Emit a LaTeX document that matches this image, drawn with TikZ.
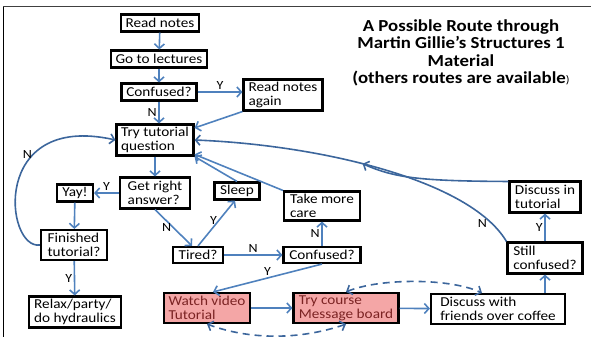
\documentclass[tikz,border=0pt]{standalone}
\usepackage{fontspec}
\setmainfont{Carlito}[FakeStretch=1.12]
\usepackage{tikz}
\usetikzlibrary{arrows.meta}
\definecolor{arrblue}{HTML}{4F81BD}
\definecolor{curveblue}{HTML}{3C669C}
\definecolor{pinkbox}{HTML}{F4A6A6}
\definecolor{pinktext}{HTML}{7B2323}

\begin{document}
\begin{tikzpicture}[x=1pt,y=-1pt,
	every node/.style={font=\fontsize{13.6}{14}\selectfont},
	box/.style={draw=black, line width=2.1pt, fill=white, align=left, inner xsep=4pt, inner ysep=2.5pt},
	hot/.style={box, fill=pinkbox, text=pinktext},
	link/.style={draw=arrblue, line width=1.6pt, -{Straight Barb[length=4.5pt,width=10pt]}},
	back/.style={link, draw=curveblue},
	chat/.style={draw=curveblue, line width=1.6pt, dash pattern=on 7pt off 5pt, {Straight Barb[length=4.5pt,width=10pt]}-{Straight Barb[length=4.5pt,width=10pt]}},
	lab/.style={font=\fontsize{12.5}{13}\selectfont, inner sep=1.5pt}]

    \useasboundingbox (0,0) rectangle (591,337);
    \draw[black!75, line width=1pt] (3,7) -- (591,7);
    \draw[black, line width=1pt] (3,7) -- (3,337);

    \node (title) at (461,53) [align=center, font=\fontsize{16.8}{17.5}\selectfont\bfseries]
        {A Possible Route through\\Martin Gillie’s Structures 1\\Material\\(others routes are available{\mdseries\fontsize{11}{12}\selectfont)}};

    \node[box, minimum width=78pt, minimum height=17pt] (rn) at (160,23) {Read notes};
    \node[box, minimum width=96pt, minimum height=17pt] (lec) at (159,59) {Go to lectures};
    \node[box, minimum width=75pt, minimum height=17pt] (conf1) at (159,92) {Confused?};
    \node[box, minimum width=79pt, minimum height=31pt] (rna) at (283,95) {Read notes\\again};
    \node[box, minimum width=77pt, minimum height=31pt] (try) at (155,140) {Try tutorial\\question};
    \node[box, minimum width=70pt, minimum height=31pt] (gra) at (155,193) {Get right\\answer?};
    \node[box, minimum width=36pt, minimum height=17pt] (yay) at (75,193) {Yay!};
    \node[box, minimum width=45pt, minimum height=17pt] (sleep) at (237,191) {Sleep};
    \node[box, minimum width=76pt, minimum height=29pt] (take) at (322,206) {Take more\\care};
    \node[box, minimum width=66pt, minimum height=30pt] (fin) at (74,245) {Finished\\tutorial?};
    \node[box, minimum width=50pt, minimum height=16pt] (tired) at (198,255) {Tired?};
    \node[box, minimum width=77pt, minimum height=16pt] (conf2) at (322,255) {Confused?};
    \node[box, minimum width=92pt, minimum height=31pt] (relax) at (75,312) {Relax/party/\\do hydraulics};
    \node[hot, minimum width=86pt, minimum height=30pt] (watch) at (207,308) {Watch video\\Tutorial};
    \node[hot, minimum width=105pt, minimum height=30pt] (course) at (346,308) {Try course\\Message board};
    \node[box, minimum width=134pt, minimum height=30pt] (coffee) at (498,309) {Discuss with\\friends over coffee};
    \node[box, minimum width=75pt, minimum height=31pt] (still) at (545,258) {Still\\confused?};
    \node[box, minimum width=71pt, minimum height=31pt] (disc) at (545,197) {Discuss in\\tutorial};

    \draw[link] (rn) -- (lec);
    \draw[link] (lec) -- (conf1);
    \draw[link] (conf1.east) -- node[lab,above]{Y} (conf1.east -| rna.west);
    \draw[link] (conf1.south) -- node[lab,left]{N} (conf1.south |- try.north);
    \draw[link] (rna.south west) -- (try.17);
    \draw[link] (try) -- (gra);
    \draw[link] (gra) -- node[lab,above]{Y} (yay);
    \draw[link] (yay) -- (fin);
    \draw[back] (fin.west) .. controls (5,250) and (-10,112) .. node[lab,pos=0.68,left]{N} (try.west);
    \draw[link] (fin) -- node[lab,left]{Y} (relax);
    \draw[link] (gra.south) -- node[lab,left]{N} ([xshift=-6]tired.north);
    \draw[link] (tired.north) -- node[lab,pos=0.55,left=-1pt]{Y} ([xshift=-2]sleep.south);
    \draw[link] (sleep.north) -- (try.south east);
    \draw[link] (take.north west) -- (try.-20);
    \draw[link] (tired) -- node[lab,above]{N} (conf2);
    \draw[link] (conf2) -- node[lab,left]{N} (take);
    \draw[link] (conf2.south) -- node[lab,above]{Y} ([xshift=6]watch.north);
    \draw[link] (watch) -- (course);
    \draw[link] (course) -- (coffee);
    \draw[chat] (course.north) .. controls (380,278) and (450,278) .. (coffee.135);
    \draw[chat] (course.south) .. controls (300,340) and (250,340) .. (watch.south);
    \draw[link] (still.south |- coffee.north) -- (still.south);
    \draw[link] (still) -- node[lab,left]{Y} (disc);
    \draw[back] (still.north west) .. controls (470,180) and (320,145) .. coordinate[pos=0.56] (mrg) node[lab,pos=0.1,left=3pt]{N} (try.east);
    \draw[back] (disc.157) .. controls (420,181) and (395,178) .. (mrg);

\end{tikzpicture}
\end{document}
